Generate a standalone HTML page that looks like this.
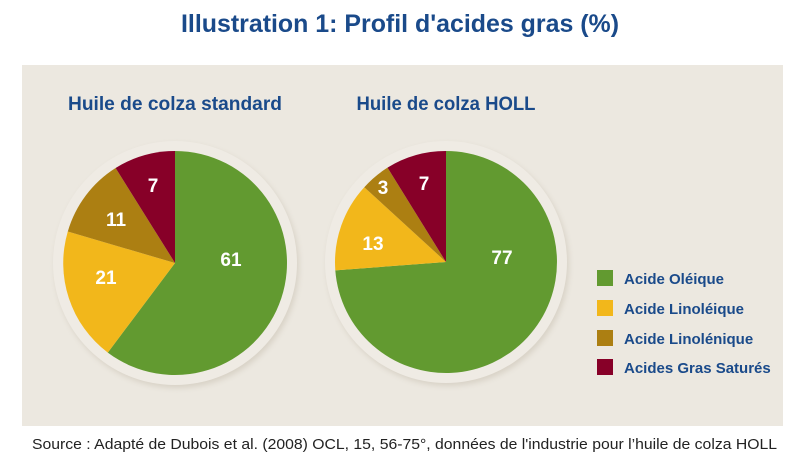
<!DOCTYPE html>
<html><head><meta charset="utf-8"><style>
body{margin:0;width:800px;height:475px;background:#fff;font-family:"Liberation Sans",sans-serif;position:relative;overflow:hidden}
</style></head><body>
<svg width="800" height="475" xmlns="http://www.w3.org/2000/svg" style="position:absolute;left:0;top:0">
<defs><filter id="sh" x="-20%" y="-20%" width="140%" height="140%"><feGaussianBlur stdDeviation="3"/></filter></defs>
<text x="400" y="32" text-anchor="middle" font-size="25" font-weight="bold" fill="#1a4a8a" textLength="438" lengthAdjust="spacingAndGlyphs">Illustration 1: Profil d'acides gras (%)</text>
<rect x="22" y="65" width="761" height="361" fill="#ece8e0"/>
<text x="175" y="110" text-anchor="middle" font-size="19" font-weight="bold" fill="#1a4a8a" textLength="214" lengthAdjust="spacingAndGlyphs">Huile de colza standard</text>
<text x="446" y="110" text-anchor="middle" font-size="19" font-weight="bold" fill="#1a4a8a" textLength="179" lengthAdjust="spacingAndGlyphs">Huile de colza HOLL</text>
<g>
<circle cx="177" cy="266" r="122" fill="#d8d2c6" filter="url(#sh)"/>
<circle cx="175" cy="263" r="122" fill="#efebe4"/>
<path d="M175 263 L175 151 A112 112 0 1 1 107.8 352.6 Z" fill="#629a30"/>
<path d="M175 263 L107.8 352.6 A112 112 0 0 1 67.8 231.5 Z" fill="#f2b71b"/>
<path d="M175 263 L67.8 231.5 A112 112 0 0 1 115.6 168.0 Z" fill="#ac7f12"/>
<path d="M175 263 L115.6 168.0 A112 112 0 0 1 175 151 Z" fill="#870028"/>
<g font-size="19" font-weight="bold" fill="#fff" text-anchor="middle">
<text x="231" y="266">61</text><text x="106" y="284">21</text><text x="116" y="226">11</text><text x="153" y="192">7</text></g>
</g>
<g>
<circle cx="448" cy="265" r="121" fill="#d8d2c6" filter="url(#sh)"/>
<circle cx="446" cy="262" r="121" fill="#efebe4"/>
<path d="M446 262 L446 151 A111 111 0 1 1 335.3 270.4 Z" fill="#629a30"/>
<path d="M446 262 L335.3 270.4 A111 111 0 0 1 364.3 187.2 Z" fill="#f2b71b"/>
<path d="M446 262 L364.3 187.2 A111 111 0 0 1 387.5 167.6 Z" fill="#ac7f12"/>
<path d="M446 262 L387.5 167.6 A111 111 0 0 1 446 151 Z" fill="#870028"/>
<g font-size="19" font-weight="bold" fill="#fff" text-anchor="middle">
<text x="502" y="264">77</text><text x="373" y="250">13</text><text x="383" y="194">3</text><text x="424" y="190">7</text></g>
</g>
<g font-size="15" font-weight="bold" fill="#1a4a8a">
<rect x="597" y="270" width="16" height="16" fill="#629a30"/><text x="624" y="284">Acide Oléique</text>
<rect x="597" y="300" width="16" height="16" fill="#f2b71b"/><text x="624" y="314">Acide Linoléique</text>
<rect x="597" y="330" width="16" height="16" fill="#ac7f12"/><text x="624" y="344">Acide Linolénique</text>
<rect x="597" y="359" width="16" height="16" fill="#870028"/><text x="624" y="373">Acides Gras Saturés</text>
</g>
<text x="32" y="449" font-size="15" fill="#222" textLength="745" lengthAdjust="spacingAndGlyphs">Source :  Adapté de Dubois et al. (2008) OCL, 15, 56-75°, données de l'industrie pour l’huile de colza HOLL</text>
</svg>
</body></html>
